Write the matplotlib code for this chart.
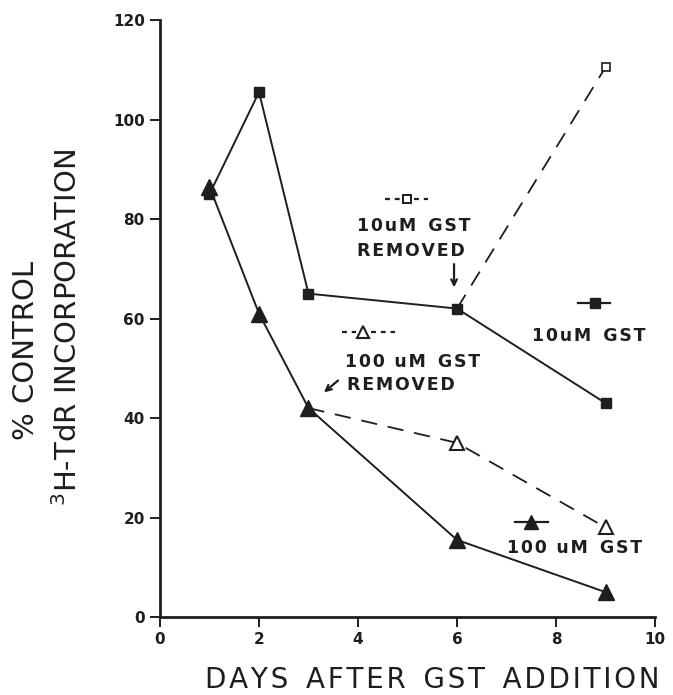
import matplotlib.pyplot as plt

# --- DATA ---
days = [1, 2, 3, 6, 9]
gst10 = [85, 105.5, 65, 62, 43]
gst100 = [86.5, 61, 42, 15.5, 5]

days_10_removed = [6, 9]
gst10_removed = [62, 110.5]
days_100_removed = [3, 6, 9]
gst100_removed = [42, 35, 18]

xticks = [0, 2, 4, 6, 8, 10]
yticks = [0, 20, 40, 60, 80, 100, 120]

INK = '#1e1e1e'
plt.rcParams['font.family'] = ['DejaVu Sans']


def spaced(s, gap='\u200a'):
    # open up letter spacing with hair spaces
    return gap.join(s)


fig = plt.figure(figsize=(6.73, 6.95), dpi=100)
fig.set_facecolor('white')
ax = fig.add_axes([0.2377, 0.1122, 0.9733 - 0.2377, 0.9712 - 0.1122])

# solid series
ax.plot(days, gst10, color=INK, lw=1.4, marker='s', ms=7, mfc=INK, mec=INK, zorder=3)
ax.plot(days, gst100, color=INK, lw=1.4, marker='^', ms=11, mfc=INK, mec=INK, zorder=3)

# GST removed (dashed, open markers)
ax.plot(days_10_removed, gst10_removed, color=INK, lw=1.3, dashes=(9, 6))
ax.plot(days_10_removed[1:], gst10_removed[1:], ls='none', marker='s', ms=6,
        mfc='white', mec=INK, mew=1.2, zorder=4)
ax.plot(days_100_removed, gst100_removed, color=INK, lw=1.3, dashes=(9, 6))
ax.plot(days_100_removed[1:], gst100_removed[1:], ls='none', marker='^', ms=10,
        mfc='white', mec=INK, mew=1.5, zorder=4)

ax.set_xlim(0, 10)
ax.set_ylim(0, 120)
ax.set_xticks(xticks)
ax.set_yticks(yticks)
ax.tick_params(direction='out', length=7, width=1.4, colors=INK, labelsize=11, pad=4)
for lab in ax.get_xticklabels() + ax.get_yticklabels():
    lab.set_fontweight('bold')
for side in ('top', 'right'):
    ax.spines[side].set_visible(False)
for side in ('left', 'bottom'):
    ax.spines[side].set_linewidth(2)
    ax.spines[side].set_color(INK)

txt = dict(color=INK, fontsize=12.5, fontweight='bold', ha='left', va='center')
key_dash = dict(color=INK, lw=1.6, dashes=(2.2, 2.2))

# key for the dashed series
ax.plot([4.54, 4.85], [84, 84], **key_dash)
ax.plot([5.13, 5.41], [84, 84], **key_dash)
ax.plot([4.99], [84], ls='none', marker='s', ms=5.5, mfc='white', mec=INK, mew=1.4)
ax.text(3.98, 78.6, spaced('10uM') + '  ' + spaced('GST'), **txt)
ax.text(3.98, 73.6, spaced('REMOVED'), **txt)
ax.annotate('', xy=(5.94, 65.7), xytext=(5.94, 71.5),
            arrowprops=dict(arrowstyle='->', color=INK, lw=1.6))

ax.plot([3.68, 3.95], [57.3, 57.3], **key_dash)
ax.plot([4.27, 4.75], [57.3, 57.3], **key_dash)
ax.plot([4.10], [57.3], ls='none', marker='^', ms=8.5, mfc='white', mec=INK, mew=1.5)
ax.text(3.74, 51.2, spaced('100 uM') + '  ' + spaced('GST'), **txt)
ax.text(3.78, 46.6, spaced('REMOVED'), **txt)
ax.annotate('', xy=(3.27, 44.8), xytext=(3.64, 47.9),
            arrowprops=dict(arrowstyle='->', color=INK, lw=1.6))

# key for the solid series
ax.plot([8.44, 9.09], [63.1, 63.1], color=INK, lw=1.6)
ax.plot([8.79], [63.1], ls='none', marker='s', ms=6.5, mfc=INK, mec=INK)
ax.text(7.52, 56.5, spaced('10uM') + '  ' + spaced('GST'), **txt)

ax.plot([7.17, 7.84], [19.1, 19.1], color=INK, lw=1.6)
ax.plot([7.49], [19.1], ls='none', marker='^', ms=10, mfc=INK, mec=INK)
ax.text(7.01, 13.9, spaced('100 uM') + '  ' + spaced('GST'), **txt)

# axis titles
fig.text(432 / 673, 1 - 680 / 695, spaced('DAYS') + '  ' + spaced('AFTER') + '  '
         + spaced('GST') + '  ' + spaced('ADDITION'), color=INK,
         fontsize=20, ha='center', va='center')
fig.text(26 / 673, 1 - 350 / 695, '% CONTROL', color=INK, fontsize=21,
         rotation=90, ha='center', va='center')
fig.text(68 / 673, 1 - 328 / 695, r'$^{3}$H-TdR INCORPORATION', color=INK,
         fontsize=21, rotation=90, ha='center', va='center')

plt.savefig('out.png', dpi=100, facecolor='white')
